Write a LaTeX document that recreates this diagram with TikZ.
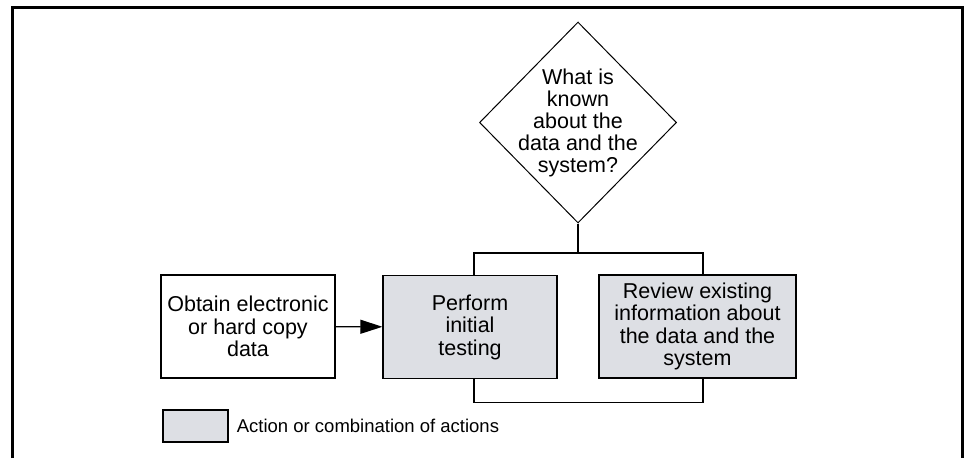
\documentclass[tikz,border=0pt]{standalone}
\usepackage{fontspec}
\setmainfont{Liberation Sans}
\usetikzlibrary{shapes.geometric,arrows.meta}
\definecolor{actiongray}{RGB}{221,223,228}

\begin{document}
\begin{tikzpicture}[x=1pt,y=-1pt,
		box/.style={draw,line width=1.3pt,minimum width=174pt,minimum height=103pt,inner sep=0pt,align=center,font=\fontsize{21.5}{22.5}\selectfont},
		action/.style={box,fill=actiongray},
		decision/.style={draw,diamond,line width=1pt,minimum width=197pt,minimum height=201pt,inner sep=0pt},
		wire/.style={line width=1.3pt}]
		\useasboundingbox (0,0) rectangle (969,458);
		
		%open frame round the figure
		\draw[line width=3pt,line join=miter] (12,458) -- (12,7) -- (962,7) -- (962,458);
		
		%decision
		\node[decision] (known) at (578,122.5) {};
		\node[align=center,inner sep=0pt,font=\fontsize{21.5}{22}\selectfont] (knowntext) at (known.center) {What is\\known\\about the\\data and the\\system?};
		
		%boxes
		\node[box] (obtain) at (248,326.5) {Obtain electronic\\or hard copy\\data};
		\node[action] (perform) at (470,327) {Perform\\initial\\testing};
		\node[action,minimum width=197pt] (review) at (697.5,326.5) {Review existing\\information about\\the data and the\\system};
		
		%connectors
		\coordinate (split) at (known.south |- 0,253);
		\draw[wire] (known.south) -- (split);
		\draw[wire] ([xshift=4pt]perform.north) |- (split) -| ([xshift=5.5pt]review.north);
		\draw[wire] ([xshift=4pt]perform.south) -- ++(0,23) -| ([xshift=5.5pt]review.south);
		\draw[wire,-{Triangle[length=22pt,width=14pt]}] (obtain) -- (perform);
		
		%legend
		\node[action,minimum width=65pt,minimum height=32pt] (legendbox) at (195.5,426) {};
		\node[anchor=west,inner sep=0pt,font=\fontsize{18.5}{20}\selectfont] (legendtext) at ([xshift=8pt]legendbox.east) {Action or combination of actions};
		
	\end{tikzpicture}
\end{document}
